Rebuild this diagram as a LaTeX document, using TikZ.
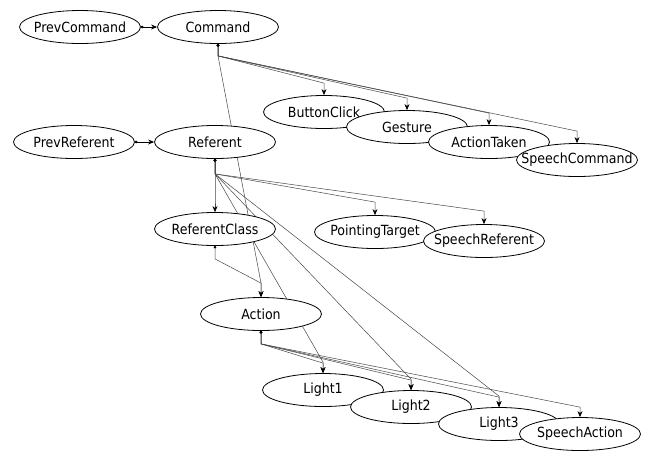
\documentclass[tikz,border=0pt]{standalone}
\usepackage{fontspec}
\newfontfamily\nodefont{DejaVu Sans Condensed}
\usetikzlibrary{arrows.meta,calc,backgrounds,shapes.geometric}
% label of zero width, so every ellipse keeps the same size
\newcommand{\varname}[1]{\makebox[0pt][c]{#1}}
\begin{document}
\begin{tikzpicture}[x=1pt,y=-1pt,
  var/.style={ellipse, draw=black, line width=0.8pt, fill=white,
    minimum width=121pt, minimum height=33pt, inner sep=0pt,
    font=\nodefont\fontsize{14}{15}\selectfont},
  link/.style={draw=gray!55!black, line width=0.5pt,
    {Circle[length=2.6pt,black]}-{Stealth[length=6pt,width=5pt,black]}},
  prevlink/.style={link, draw=black, line width=0.8pt}]
\useasboundingbox (0,0) rectangle (647,451);

% variables of the network
\node[var] (prevcmd) at (80,27)  {\varname{PrevCommand}};
\node[var] (cmd)     at (218,27) {\varname{Command}};
\node[var] (prevref) at (74,142) {\varname{PrevReferent}};
\node[var] (ref)     at (215,142) {\varname{Referent}};

\node[var] (button)  at (324,112) {\varname{ButtonClick}};
\node[var] (gesture) at (407,127) {\varname{Gesture}};
\node[var] (taken)   at (489,142) {\varname{ActionTaken}};
\node[var] (spcmd)   at (577,160) {\varname{SpeechCommand}};

\node[var] (refcls)  at (215,229) {\varname{ReferentClass}};
\node[var] (point)   at (375,232) {\varname{PointingTarget}};
\node[var] (spref)   at (484,241) {\varname{SpeechReferent}};

\node[var] (action)  at (261,314) {\varname{Action}};
\node[var] (light1)  at (323,390) {\varname{Light1}};
\node[var] (light2)  at (411,407) {\varname{Light2}};
\node[var] (light3)  at (499,424) {\varname{Light3}};
\node[var] (spact)   at (580,434) {\varname{SpeechAction}};

% dependencies, routed behind the variables
\begin{pgfonlayer}{background}
  \draw[prevlink] (prevcmd.east) -- (cmd.west);
  \draw[prevlink] (prevref.east) -- (ref.west);

  \foreach \c in {button,gesture,taken,spcmd}
    \draw[link] (cmd.south) -- ++(0,12) -- ($(\c.north)+(0,-12)$) -- (\c.north);
  \draw[link] (cmd.south) -- ++(0,12) -- ($(action.north)+(0,-14)$) -- (action.north);

  \foreach \c in {refcls,point,spref}
    \draw[link] (ref.south) -- ++(0,15) -- ($(\c.north)+(0,-13)$) -- (\c.north);
  \foreach \c in {light1,light2,light3}
    \draw[link] (ref.south) -- ++(0,15) -- ($(\c.north)+(0,-11)$) -- (\c.north);

  \draw[link] (refcls.south) -- ++(0,13) -- ($(action.north)+(0,-14)$) -- (action.north);

  \foreach \c in {light1,light2,light3,spact}
    \draw[link] (action.south) -- ++(0,13) -- ($(\c.north)+(0,-10)$) -- (\c.north);
\end{pgfonlayer}
\end{tikzpicture}
\end{document}
